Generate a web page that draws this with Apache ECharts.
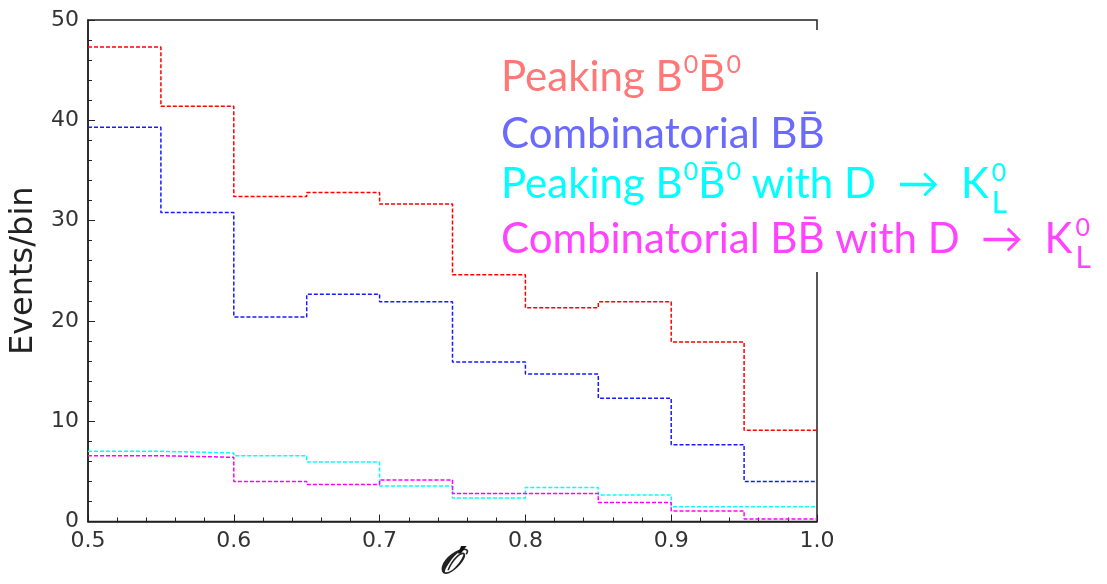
<!DOCTYPE html>
<html>
<head>
<meta charset="utf-8">
<script src="https://cdn.jsdelivr.net/npm/echarts@6/dist/echarts.min.js"></script>
<style>html,body{margin:0;padding:0;background:#fff;}#chart{width:1107px;height:584px;}</style>
</head>
<body>
<div id="chart"></div>
<script>
// Bin edges of the O' histogram
const binEdges = [0.5, 0.55, 0.6, 0.65, 0.7, 0.75, 0.8, 0.85, 0.9, 0.95, 1.0];
// Events per bin
const peaking         = [47.3, 41.4, 32.4, 32.8, 31.65, 24.6, 21.3, 21.9, 17.9, 9.1];
const combinatorial   = [39.3, 30.8, 20.4, 22.65, 21.9, 15.9, 14.7, 12.3, 7.66, 4.0];
const peakingKL       = [7.0, 6.83, 6.56, 5.93, 3.54, 2.34, 3.4, 2.64, 1.48, 1.48];
const combinatorialKL = [6.56, 6.4, 4.0, 3.7, 4.14, 2.8, 2.8, 1.9, 1.05, 0.25];
const seriesNames = ['Peaking B0B0', 'Combinatorial BB', 'Peaking B0B0 with D→KL0', 'Combinatorial BB with D→KL0'];
const xTickLabels = ['0.5', '0.6', '0.7', '0.8', '0.9', '1.0'];
const yTickLabels = ['0', '10', '20', '30', '40', '50'];

const lineColors = ['#ff0000', '#1a1aff', '#00ffff', '#ff00ff'];
const textColors = ['#ff7878', '#6a6aff', '#00ffff', '#ff44ff'];

function stepData(vals) {
  const d = vals.map((v, i) => [binEdges[i], v]);
  d.push([binEdges[binEdges.length - 1], vals[vals.length - 1]]);
  return d;
}

const chart = echarts.init(document.getElementById('chart'), null, {renderer: 'canvas'});

// legend text built from fragments
const ctx = document.createElement('canvas').getContext('2d');
const FONT = 'Lato';
function tw(t, s) { ctx.font = s + 'px ' + FONT; return ctx.measureText(t).width; }
const MAIN = 42, SUP = 25, SUB = 30;
const K = 0.3;
const macB = 'B\u0304';
const legendLines = [
  {baseline: 90,  parts: [['n', 'Peaking B'], ['sup', '0'], ['n', macB], ['sup', '0']]},
  {baseline: 147, parts: [['n', 'Combinatorial B' + macB]]},
  {baseline: 197, parts: [['n', 'Peaking B'], ['sup', '0'], ['n', macB], ['sup', '0'], ['n', ' with D  \u2192  K'], ['subsup', 'L', '0']]},
  {baseline: 252, parts: [['n', 'Combinatorial B' + macB + ' with D  \u2192  K'], ['subsup', 'L', '0']]}
];
const graphics = [
  {type: 'rect', z: 100, silent: true, shape: {x: 486, y: 30, width: 621, height: 242}, style: {fill: '#ffffff'}},
  // x-axis title: script O with prime
  {type: 'text', z: 101, silent: true, x: 449, y: 564,
    style: {text: '\uD835\uDCAA', font: 'italic bold 34px "DejaVu Serif"', fill: '#222', align: 'center', verticalAlign: 'middle'}},
  {type: 'text', z: 102, silent: true, x: 457, y: 566,
    style: {text: '\u2032', font: 'bold 40px "DejaVu Sans"', fill: '#111', align: 'left', verticalAlign: 'middle'}}
];
function txt(t, x, base, size, color) {
  return {type: 'text', z: 101, silent: true, x: x, y: base - K * size,
    style: {text: t, font: size + 'px ' + FONT, fill: color, verticalAlign: 'middle', align: 'left'}};
}
legendLines.forEach((ln, li) => {
  let x = 501;
  const c = textColors[li];
  ln.parts.forEach(p => {
    if (p[0] === 'n') { graphics.push(txt(p[1], x, ln.baseline, MAIN, c)); x += tw(p[1], MAIN); }
    else if (p[0] === 'sup') { graphics.push(txt(p[1], x + 1, ln.baseline - 18, SUP, c)); x += tw(p[1], SUP) + 1; }
    else if (p[0] === 'subsup') {
      graphics.push(txt(p[1], x + 3, ln.baseline + 15, SUB, c));
      graphics.push(txt(p[2], x + 3, ln.baseline - 17, SUP, c));
    }
  });
});

const axisCommon = {
  axisLine: {show: true, onZero: false, lineStyle: {color: '#222', width: 1.5}},
  axisTick: {show: true, inside: true, length: 7, lineStyle: {color: '#222', width: 1}},
  minorTick: {show: true, splitNumber: 5, length: 4, lineStyle: {color: '#222', width: 1}},
  splitLine: {show: false},
  minorSplitLine: {show: false}
};

chart.setOption({
  animation: false,
  backgroundColor: '#ffffff',
  grid: {left: 88, right: 290, top: 20, bottom: 62.5, show: true, borderColor: '#222', borderWidth: 1.5,
    containLabel: false, outerBoundsMode: 'none'},
  xAxis: Object.assign({
    type: 'value', min: 0.5, max: 1.0, interval: 0.1,
    axisLabel: {fontSize: 22, color: '#333', fontFamily: 'DejaVu Sans', margin: 9,
      formatter: v => xTickLabels[Math.round((v - 0.5) / 0.1)]}
  }, axisCommon),
  yAxis: Object.assign({
    type: 'value', min: 0, max: 50, interval: 10,
    name: 'Events/bin', nameLocation: 'middle', nameGap: 42,
    nameTextStyle: {fontSize: 32, fontFamily: 'DejaVu Sans', color: '#222'},
    axisLabel: {fontSize: 22, color: '#333', fontFamily: 'DejaVu Sans', margin: 9,
      formatter: v => yTickLabels[Math.round(v / 10)]}
  }, axisCommon),
  series: [peaking, combinatorial, peakingKL, combinatorialKL].map((vals, i) => ({
    name: seriesNames[i], type: 'line', step: 'end', symbol: 'none',
    data: stepData(vals),
    lineStyle: {color: lineColors[i], width: 1.5, type: [4, 2]},
    z: 2 + i
  })),
  graphic: graphics
});
</script>
</body>
</html>
